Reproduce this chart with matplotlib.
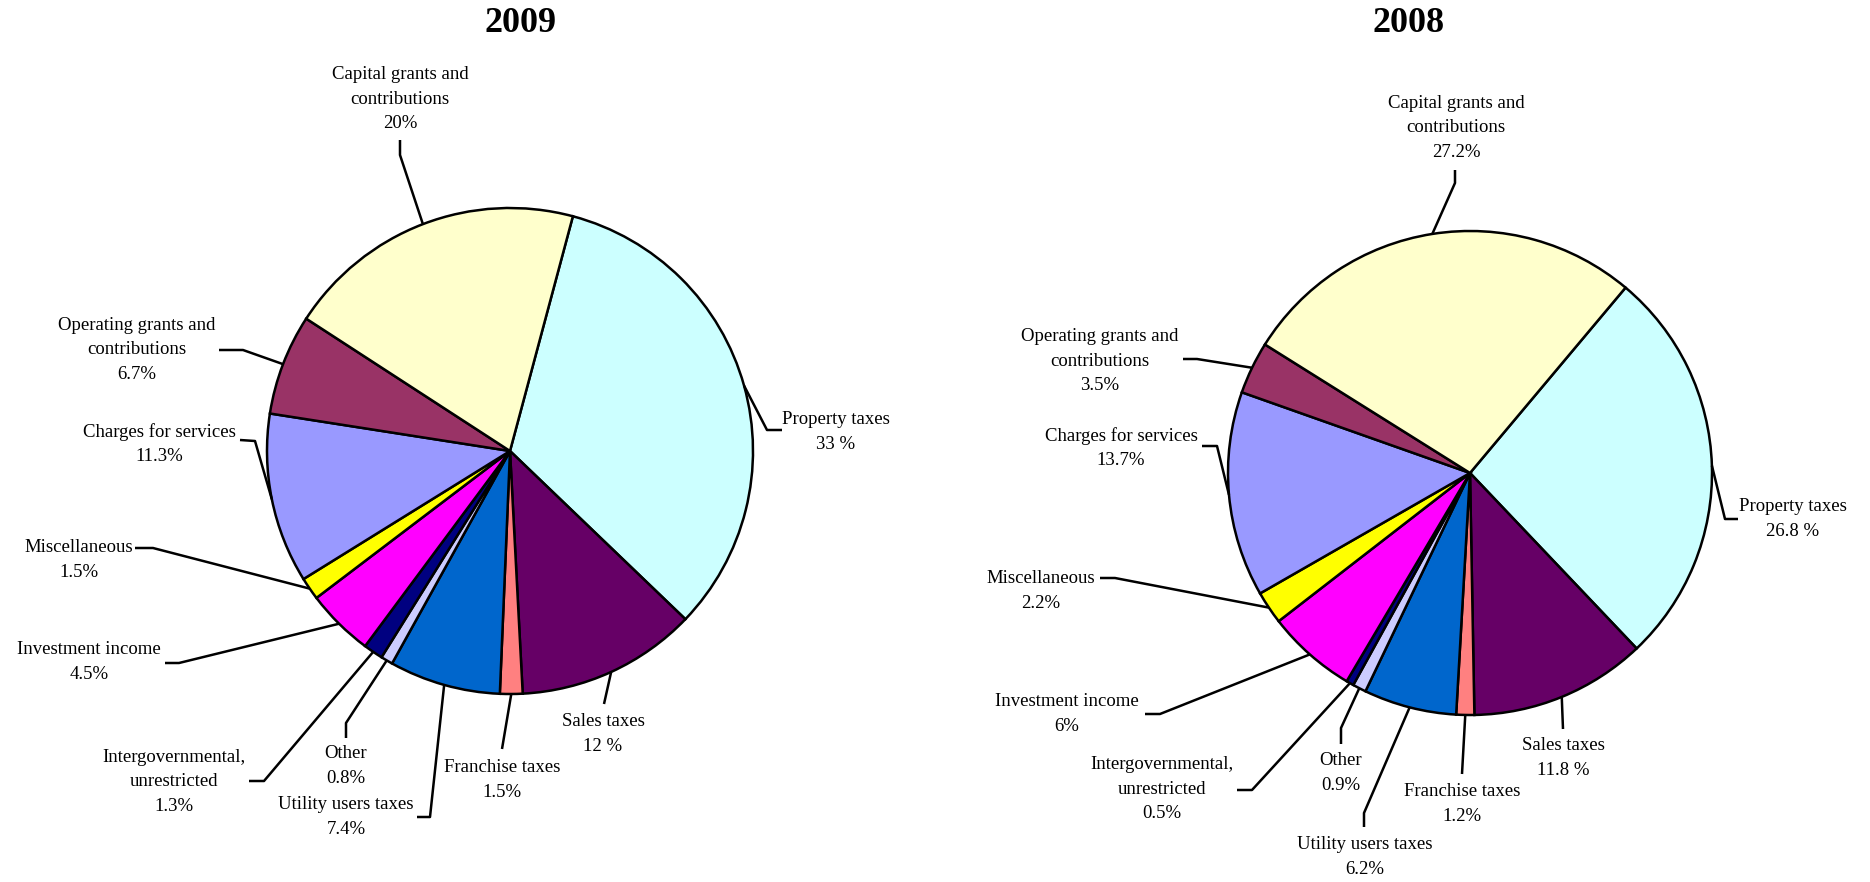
import numpy as np
import matplotlib
matplotlib.use("Agg")
import matplotlib.pyplot as plt

plt.rcParams['font.family'] = ['Liberation Serif', 'DejaVu Serif']

W, H = 1870, 882

# ---- data ----
categories = ["Property taxes", "Sales taxes", "Franchise taxes", "Utility users taxes",
              "Other", "Intergovernmental,\nunrestricted", "Investment income",
              "Miscellaneous", "Charges for services", "Operating grants and\ncontributions",
              "Capital grants and\ncontributions"]
colors = ["#CCFFFF", "#660066", "#FF8080", "#0066CC", "#CCCCFF", "#000080",
          "#FF00FF", "#FFFF00", "#9999FF", "#993366", "#FFFFCC"]

vals_2009 = [33, 12, 1.5, 7.4, 0.8, 1.3, 4.5, 1.5, 11.3, 6.7, 20]
pct_2009 = ["33 %", "12 %", "1.5%", "7.4%", "0.8%", "1.3%", "4.5%", "1.5%", "11.3%", "6.7%", "20%"]

vals_2008 = [26.8, 11.8, 1.2, 6.2, 0.9, 0.5, 6, 2.2, 13.7, 3.5, 27.2]
pct_2008 = ["26.8 %", "11.8 %", "1.2%", "6.2%", "0.9%", "0.5%", "6%", "2.2%", "13.7%", "3.5%", "27.2%"]

# ---- layout (pixel positions, image y downward) ----
# text block centre, then leader points from the text toward the pie
lay_2009 = [
    ((836, 432), [(782, 430), (767, 430)]),
    ((603, 734), [(604, 704)]),
    ((502, 780), [(502, 749)]),
    ((346, 817), [(417, 817), (430, 817)]),
    ((346, 766), [(346, 738), (346, 723)]),
    ((174, 782), [(249, 781), (264, 781)]),
    ((89, 662), [(165, 663), (179, 663)]),
    ((79, 560), [(135, 548), (153, 548)]),
    ((159, 444), [(240, 440), (255, 441)]),
    ((137, 350), [(219, 350), (243, 350)]),
    ((400, 99), [(400, 140), (400, 155)]),
]
lay_2008 = [
    ((1793, 519), [(1738, 519), (1725, 519)]),
    ((1563, 758), [(1563, 729)]),
    ((1462, 804), [(1462, 774)]),
    ((1365, 857), [(1364, 827), (1364, 813)]),
    ((1341, 773), [(1341, 744), (1341, 728)]),
    ((1162, 789), [(1237, 790), (1252, 790)]),
    ((1067, 714), [(1145, 714), (1160, 714)]),
    ((1041, 591), [(1100, 578), (1115, 578)]),
    ((1121, 448), [(1202, 446), (1217, 446)]),
    ((1100, 361), [(1183, 359), (1197, 359)]),
    ((1456, 128), [(1455, 170), (1455, 183)]),
]

fig = plt.figure(figsize=(W / 100, H / 100), dpi=100)
ax = fig.add_axes([0, 0, 1, 1])


def draw_pie(vals, pcts, layout, center, radius, start, title, title_x):
    cx, cy = center[0], H - center[1]
    wedges, _ = ax.pie(vals, colors=colors, startangle=start, counterclock=False,
                       center=(cx, cy), radius=radius, frame=True,
                       wedgeprops=dict(edgecolor="black", linewidth=1.8))
    for w, name, pct, (tpos, pts) in zip(wedges, categories, pcts, layout):
        mid = np.deg2rad((w.theta1 + w.theta2) / 2)
        ex, ey = cx + radius * np.cos(mid), cy + radius * np.sin(mid)
        xs = [p[0] for p in pts] + [ex]
        ys = [H - p[1] for p in pts] + [ey]
        ax.plot(xs, ys, color="black", lw=1.8, solid_capstyle="butt")
        ax.text(tpos[0], H - tpos[1], name + "\n" + pct, ha="center", va="center",
                multialignment="center", fontsize=13.5, linespacing=1.55)
    ax.text(title_x, H - 24, title, ha="center", va="center",
            fontsize=26, fontweight="bold")


draw_pie(vals_2009, pct_2009, lay_2009, (510, 451), 243, 75, "2009", 520)
draw_pie(vals_2008, pct_2008, lay_2008, (1470, 473), 242, 50, "2008", 1409)

ax.set_xlim(0, W)
ax.set_ylim(0, H)
ax.set_aspect('equal')
ax.axis('off')

fig.savefig("out.png", dpi=100)
